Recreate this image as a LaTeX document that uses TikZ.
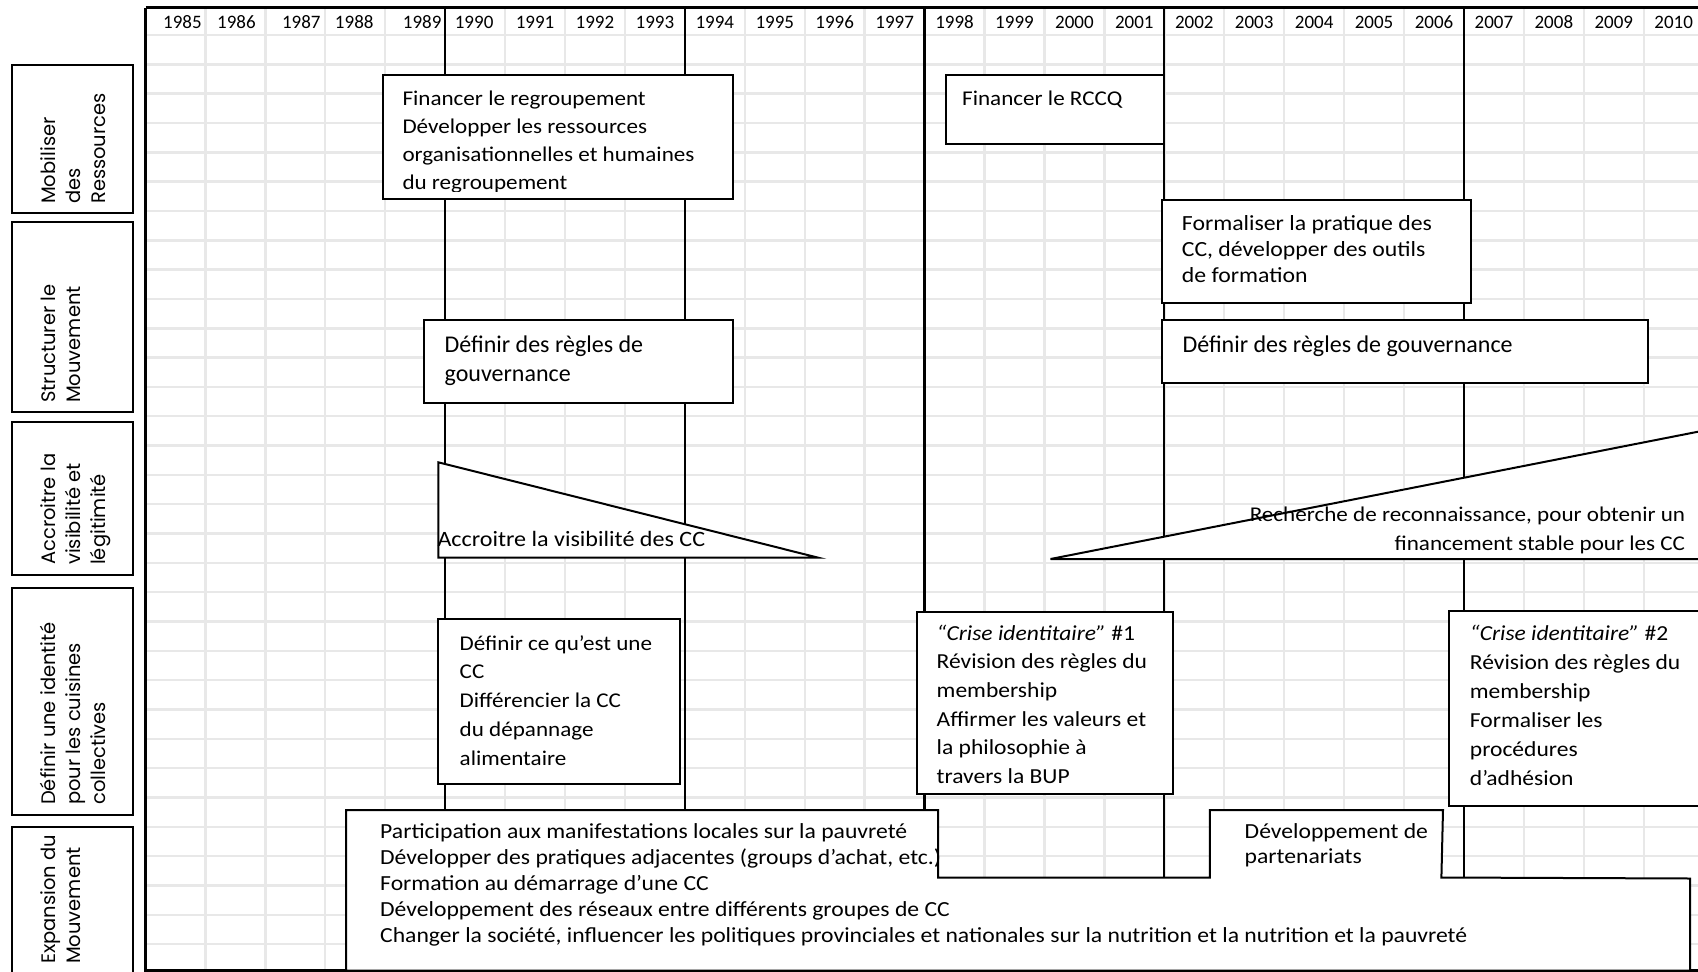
\documentclass[tikz,border=0pt]{standalone}
\usepackage{fontspec}
\setmainfont{Carlito}
\newfontfamily\futfont[FakeStretch=1.1]{Carlito}
\newfontfamily\labfont{Poppins}
\newcommand\boxlines[1]{\vtop{\halign{##\hfil\cr#1\crcr}}}
\newcommand\rboxlines[1]{\vtop{\halign{\hfil##\cr#1\crcr}}}
\tikzset{
  gridline/.style={draw=black!9, line width=2.4pt},
  yearline/.style={draw=black, line width=2.2pt},
  frame/.style={draw=black, line width=2pt, fill=white},
  fut/.style 2 args={font=\futfont\fontsize{#1}{#2}\selectfont, anchor=base west, inner sep=0pt},
  cal/.style={font=\fontsize{24}{29.2}\selectfont, anchor=base west, inner sep=0pt},
  yr/.style={font=\fontsize{19}{22}\selectfont, anchor=base, inner sep=0pt},
  lab/.style={font=\labfont\fontsize{19.5}{25}\selectfont, anchor=base west, inner sep=0pt, rotate=90}
}
\begin{document}
\begin{tikzpicture}[x=1pt,y=-1pt]
\useasboundingbox (0,0) rectangle (1698,972);
\clip (0,0) rectangle (1698,972);
% grid
\foreach \k in {1,...,26} \draw[gridline] ({145.5+\k*59.93},7.5) -- ({145.5+\k*59.93},972);
\foreach \n in {0,...,32} \draw[gridline] (145.5,{35+\n*29.33}) -- (1698,{35+\n*29.33});
% borders and period lines
\draw[yearline] (145.5,7.5) -- (1698,7.5);
\draw[yearline] (145.5,7.5) -- (145.5,972);
\draw[yearline] (145.5,970.5) -- (1698,970.5);
\foreach \k in {5,9,13,17,22} \draw[yearline] ({145.5+\k*59.93},7.5) -- ({145.5+\k*59.93},972);
% years
\foreach \yr/\off [count=\i from 0] in {1985/7,1986/1,1987/6,1988/-1,1989/7,1990/-1,1991/0,1992/0,1993/0,1994/0,1995/0,1996/0,1997/0,1998/0,1999/0,2000/0,2001/0,2002/0,2003/0,2004/0,2005/0,2006/0,2007/0,2008/0,2009/0,2010/0}
  \node[yr] (y\yr) at ({145.5+(\i+0.5)*59.93+\off},28.5) {\yr};
% left category boxes
\draw[frame] (12,65) rectangle (133,213);
\draw[frame] (12,222) rectangle (133,412);
\draw[frame] (12,422) rectangle (133,575);
\draw[frame] (12,588) rectangle (133,815);
\draw[frame] (12,827) rectangle (133,976);
\node[lab] (l1) at (55,204) {\boxlines{Mobiliser\cr des\cr Ressources}};
\node[lab] (l2) at (55,403) {\boxlines{Structurer le\cr Mouvement}};
\node[lab] (l3) at (55,565) {\boxlines{Accroitre la\cr visibilité et\cr légitimité}};
\node[lab] (l4) at (55,805) {\boxlines{Définir une identité\cr pour les cuisines\cr collectives}};
\node[lab] (l5) at (55,964) {\boxlines{Expansion du\cr Mouvement}};
% boxes
\draw[frame] (382.7,75) rectangle (733.3,199.3);
\draw[frame] (945.5,75) rectangle (1163.5,144);
\draw[frame] (1161.7,200) rectangle (1471,303.3);
\draw[frame] (1162.3,320) rectangle (1648.3,383.3);
\draw[frame] (424.4,320) rectangle (732.8,402.7);
\draw[frame] (438.3,462.3) -- (438.3,557.7) -- (818.3,557.7) -- cycle;
\draw[frame] (1050.5,559) -- (1720,427.4) -- (1720,559) -- cycle;
\draw[frame] (438.3,619.4) rectangle (680,784);
\draw[frame] (917,611.8) rectangle (1172.8,794);
\draw[frame] (1449.3,610.5) rectangle (1710,806);
\draw[frame] (346,810) -- (938,810) -- (938,877.5) -- (1209.8,877.5) -- (1209.8,810) -- (1443,810) -- (1441.4,877.5) -- (1690,878.5) -- (1690,970.5) -- (346,970.5) -- cycle;
% texts
\begin{scope}
\clip (382.7,75) rectangle (733.3,191);
\node[fut={21}{28.1}] (tA) at (402.3,105) {\boxlines{Financer le regroupement\cr
Développer les ressources\cr
organisationnelles et humaines\cr
du regroupement}};
\end{scope}
\node[fut={21}{26}] (tB) at (962,105) {Financer le RCCQ};
\node[fut={21.6}{26}] (tF) at (1181.7,230.7) {\boxlines{Formaliser la pratique des\cr
CC, développer des outils\cr
de formation}};
\node[cal] (tG1) at (444.4,352.3) {\boxlines{Définir des règles de\cr
gouvernance}};
\node[cal] (tG2) at (1182.3,352.3) {Définir des règles de gouvernance};
\node[fut={21.9}{28}] (tV1) at (437.3,546.7) {Accroitre la visibilité des CC};
\node[fut={21}{28.3}, anchor=base east] (tV2) at (1685.3,521.7) {\rboxlines{Recherche de reconnaissance, pour obtenir un\cr
financement stable pour les CC}};
\node[fut={21}{28.75}] (tI1) at (459.5,650) {\boxlines{Définir ce qu’est une\cr
CC\cr
Différencier la CC\cr
du dépannage\cr
alimentaire}};
\node[fut={21.4}{28.7}] (tI2) at (936.5,640) {\boxlines{\textit{“Crise identitaire”} \#1\cr
Révision des règles du\cr
membership\cr
Affirmer les valeurs et\cr
la philosophie à\cr
travers la BUP}};
\node[fut={21.4}{29}] (tI3) at (1469.7,640.5) {\boxlines{\textit{“Crise identitaire”} \#2\cr
Révision des règles du\cr
membership\cr
Formaliser les\cr
procédures\cr
d’adhésion}};
\node[fut={21.5}{26}] (tE1) at (380,838) {\boxlines{Participation aux manifestations locales sur la pauvreté\cr
Développer des pratiques adjacentes (groups d’achat, etc.)\cr
Formation au démarrage d’une CC\cr
Développement des réseaux entre différents groupes de CC\cr
Changer la société, influencer les politiques provinciales et nationales sur la nutrition et la nutrition et la pauvreté}};
\node[fut={21.5}{25.5}] (tE2) at (1244.5,838) {\boxlines{Développement de\cr
partenariats}};
\end{tikzpicture}
\end{document}
